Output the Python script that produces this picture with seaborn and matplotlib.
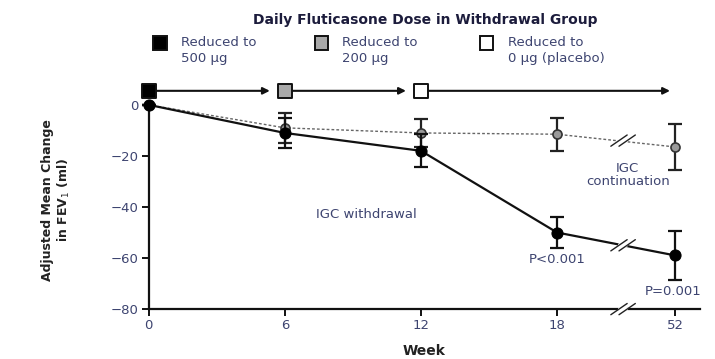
import numpy as np
import pandas as pd
import matplotlib
matplotlib.use("Agg")
import matplotlib.pyplot as plt
import seaborn as sns

# ---- data ----
weeks = ["0", "6", "12", "18", "52"]
withdrawal = [0, -11, -18, -50, -59]
withdrawal_err = [0, 6, 6.5, 6, 9.5]
continuation = [0, -9, -11, -11.5, -16.5]
continuation_err = [0, 6, 5.5, 6.5, 9]
yticks = [0, -20, -40, -60, -80]
dose_labels = ["Reduced to\n500 \u03bcg", "Reduced to\n200 \u03bcg", "Reduced to\n0 \u03bcg (placebo)"]
dose_colors = ["black", "#a9a9a9", "white"]
dose_weeks = ["0", "6", "12"]

# layout: broken axis positions
xpos = [0, 1, 2, 3, 3.87]
pos = dict(zip(weeks, xpos))

sns.set_theme(style="white")
plt.rcParams["font.family"] = ["DejaVu Sans"]
txtc = "#3d4470"

fig = plt.figure(figsize=(7.15, 3.59), dpi=100)
ax = fig.add_axes([0.208, 0.139, 0.771, 0.608])

df = pd.DataFrame({
    "pos": xpos * 2,
    "val": withdrawal + continuation,
    "err": withdrawal_err + continuation_err,
    "group": ["withdrawal"] * 5 + ["continuation"] * 5,
})

dc = df[df.group == "continuation"]
dw = df[df.group == "withdrawal"]

ax.errorbar(dc.pos, dc.val, yerr=dc.err, fmt="none", ecolor="#222", elinewidth=1.6, capsize=5, capthick=1.6, zorder=2, clip_on=False)
sns.lineplot(data=dc, x="pos", y="val", ax=ax, color="#666", lw=1.0, linestyle=(0, (2, 1.5)),
             marker="o", markersize=6.5, markerfacecolor="#9a9a9a", markeredgecolor="#333", markeredgewidth=1.2, zorder=3)
ax.errorbar(dw.pos, dw.val, yerr=dw.err, fmt="none", ecolor="#111", elinewidth=1.6, capsize=5, capthick=1.6, zorder=4, clip_on=False)
sns.lineplot(data=dw, x="pos", y="val", ax=ax, color="#111", lw=1.6,
             marker="o", markersize=8, markerfacecolor="black", markeredgecolor="black", zorder=5)
for ln in ax.lines:
    ln.set_clip_on(False)

ax.set_xlim(0, 4.05)
ax.set_ylim(-80, 5.5)
ax.set_xticks(xpos)
ax.set_xticklabels(weeks)
ax.set_yticks(yticks)
ax.set_yticklabels(["0", "\u221220", "\u221240", "\u221260", "\u221280"])
for s in ["top", "right"]:
    ax.spines[s].set_visible(False)
for s in ["left", "bottom"]:
    ax.spines[s].set_color("#111")
    ax.spines[s].set_linewidth(1.6)
ax.spines["left"].set_bounds(-80, 0)
ax.tick_params(axis="both", direction="out", length=5, width=1.4, color="#111",
               labelsize=9.5, labelcolor=txtc, pad=2, left=True, bottom=True)
ax.grid(False)
ax.set_xlabel("Week", fontsize=10, fontweight="bold", color="#222", labelpad=9)
ax.set_ylabel("Adjusted Mean Change\nin FEV$_1$ (ml)", fontsize=9, fontweight="bold", color="#222", labelpad=28)

# break marks
bx = 3.485
for yb in [-80, (withdrawal[3] + withdrawal[4]) / 2 - 0.5, (continuation[3] + continuation[4]) / 2]:
    for off in (-0.03, 0.03):
        ax.plot([bx + off - 0.06, bx + off + 0.06], [yb - 2.2, yb + 2.2], color="#222", lw=1.0, clip_on=False, zorder=6)
    ax.plot([bx - 0.02, bx + 0.02], [yb, yb], color="white", lw=3, clip_on=False, zorder=5.5)

# dose row
ydose = 5.5
ax.annotate("", xy=(pos["6"] - 0.09, ydose), xytext=(pos["0"], ydose),
            arrowprops=dict(arrowstyle="-|>", color="#111", lw=1.5, mutation_scale=10), annotation_clip=False)
ax.annotate("", xy=(pos["12"] - 0.09, ydose), xytext=(pos["6"], ydose),
            arrowprops=dict(arrowstyle="-|>", color="#111", lw=1.5, mutation_scale=10), annotation_clip=False)
ax.annotate("", xy=(3.85, ydose), xytext=(pos["12"], ydose),
            arrowprops=dict(arrowstyle="-|>", color="#111", lw=1.5, mutation_scale=10), annotation_clip=False)
for w, c in zip(dose_weeks, dose_colors):
    ax.scatter([pos[w]], [ydose], marker="s", s=110, c=c, edgecolors="#111", linewidths=1.4, clip_on=False, zorder=7)

# annotations
ax.text(1.6, -43, "IGC withdrawal", fontsize=9.5, color=txtc, ha="center", va="center")
ax.text(3.52, -27.5, "IGC\ncontinuation", fontsize=9.5, color=txtc, ha="center", va="center", linespacing=1.0)
ax.text(3.0, -60.5, "P<0.001", fontsize=9.5, color=txtc, ha="center", va="center")
ax.text(3.85, -73, "P=0.001", fontsize=9.5, color=txtc, ha="center", va="center")

# title and dose legend
fig.text(0.595, 0.945, "Daily Fluticasone Dose in Withdrawal Group", fontsize=10, fontweight="bold",
         color="#1c1c3c", ha="center", va="center")
lx = [0.224, 0.450, 0.681]
for x, lab, c in zip(lx, dose_labels, dose_colors):
    fig.patches.append(plt.Rectangle((x - 0.010, 0.861), 0.019, 0.038, transform=fig.transFigure,
                                     facecolor=c, edgecolor="#111", lw=1.4))
    fig.text(x + 0.029, 0.899, lab, fontsize=9.5, color=txtc, ha="left", va="top", linespacing=1.3)

fig.savefig("out.png", dpi=100)
